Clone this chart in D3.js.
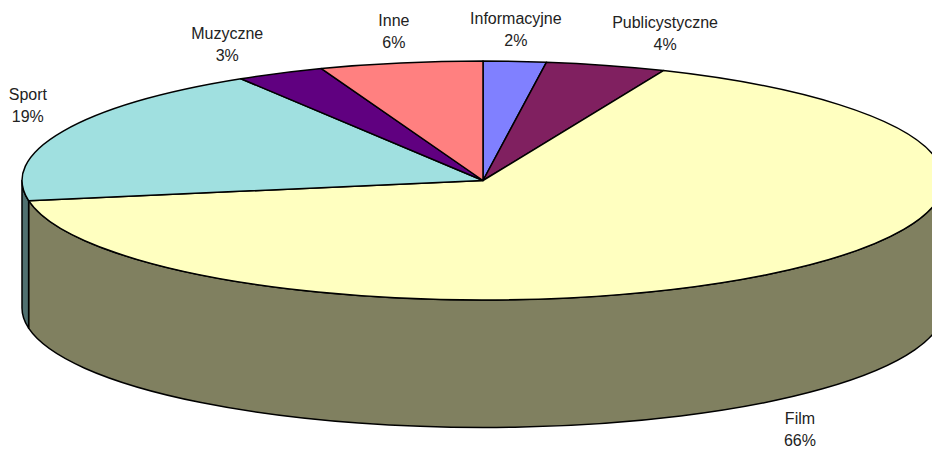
<!DOCTYPE html>
<html lang="pl">
<head>
  <meta charset="UTF-8">
  <title>Struktura programu</title>
  <script src="https://d3js.org/d3.v7.min.js"></script>
  <style>
    body { margin: 0; background: #fff; }
    svg { display: block; }
    text { font-family: "Liberation Sans", Arial, sans-serif; font-size: 16px; fill: #222; }
  </style>
</head>
<body>
<svg id="chart" width="932" height="450"></svg>
<script>
  const categories = ["Informacyjne", "Publicystyczne", "Film", "Sport", "Muzyczne", "Inne"];
  const shares = [2.2, 4.2, 65.9, 18.9, 3.1, 5.7];
  const topColors = ["#8080ff", "#802060", "#ffffc0", "#a0e0e0", "#600080", "#ff8080"];
  const sideColors = ["#404080", "#401030", "#808060", "#507070", "#300040", "#804040"];

  // przesuniecie etykiety wzgledem srodka luku
  const labelDx = [1, 59, 31, -35, -53, -7];
  const labelDy = [-32, -32, 155, -26, -29, -32];

  const width = 932, height = 450;
  const cx = 483, cy = 180.5, rx = 461, ry = 119.5, depth = 127.5;

  const svg = d3.select("#chart");

  const x = d3.scaleLinear().domain([-1, 1]).range([cx - rx, cx + rx]);
  const y = d3.scaleLinear().domain([-1, 1]).range([cy - ry, cy + ry]);

  // kat liczony od gory, zgodnie z ruchem wskazowek zegara
  const point = (a, dz = 0) => [x(Math.sin(a)), y(-Math.cos(a)) + dz];

  const arcTo = (a0, a1, dz = 0) => {
    const [px, py] = point(a1, dz);
    const large = Math.abs(a1 - a0) > Math.PI ? 1 : 0;
    const sweep = a1 > a0 ? 1 : 0;
    return `A${rx},${ry} 0 ${large} ${sweep} ${px},${py}`;
  };

  const slices = d3.pie().sort(null).value(d => d)(shares);

  const format = d3.format(".0f");

  // sciana boczna: tylko przednia polowa elipsy jest widoczna
  const sides = slices
    .map((d, i) => ({ i, a0: Math.max(d.startAngle, Math.PI / 2), a1: Math.min(d.endAngle, 3 * Math.PI / 2) }))
    .filter(d => d.a1 > d.a0);

  svg.selectAll("path.side")
    .data(sides)
    .join("path")
    .attr("class", "side")
    .attr("d", d => `M${point(d.a0)} ${arcTo(d.a0, d.a1)} L${point(d.a1, depth)} ${arcTo(d.a1, d.a0, depth)} Z`)
    .attr("fill", d => sideColors[d.i])
    .attr("stroke", "#000")
    .attr("stroke-width", 1.5)
    .attr("stroke-linejoin", "round");

  svg.selectAll("path.top")
    .data(slices)
    .join("path")
    .attr("class", "top")
    .attr("d", d => `M${cx},${cy} L${point(d.startAngle)} ${arcTo(d.startAngle, d.endAngle)} Z`)
    .attr("fill", (d, i) => topColors[i])
    .attr("stroke", "#000")
    .attr("stroke-width", 1.5)
    .attr("stroke-linejoin", "round");

  const labels = svg.selectAll("text")
    .data(slices)
    .join("text")
    .attr("text-anchor", "middle")
    .attr("transform", (d, i) => {
      const [px, py] = point((d.startAngle + d.endAngle) / 2);
      return `translate(${px + labelDx[i]},${py + labelDy[i]})`;
    });

  labels.append("tspan")
    .attr("x", 0)
    .attr("y", -5)
    .text((d, i) => categories[i]);

  labels.append("tspan")
    .attr("x", 0)
    .attr("y", 17)
    .text(d => format(d.value) + "%");
</script>
</body>
</html>
